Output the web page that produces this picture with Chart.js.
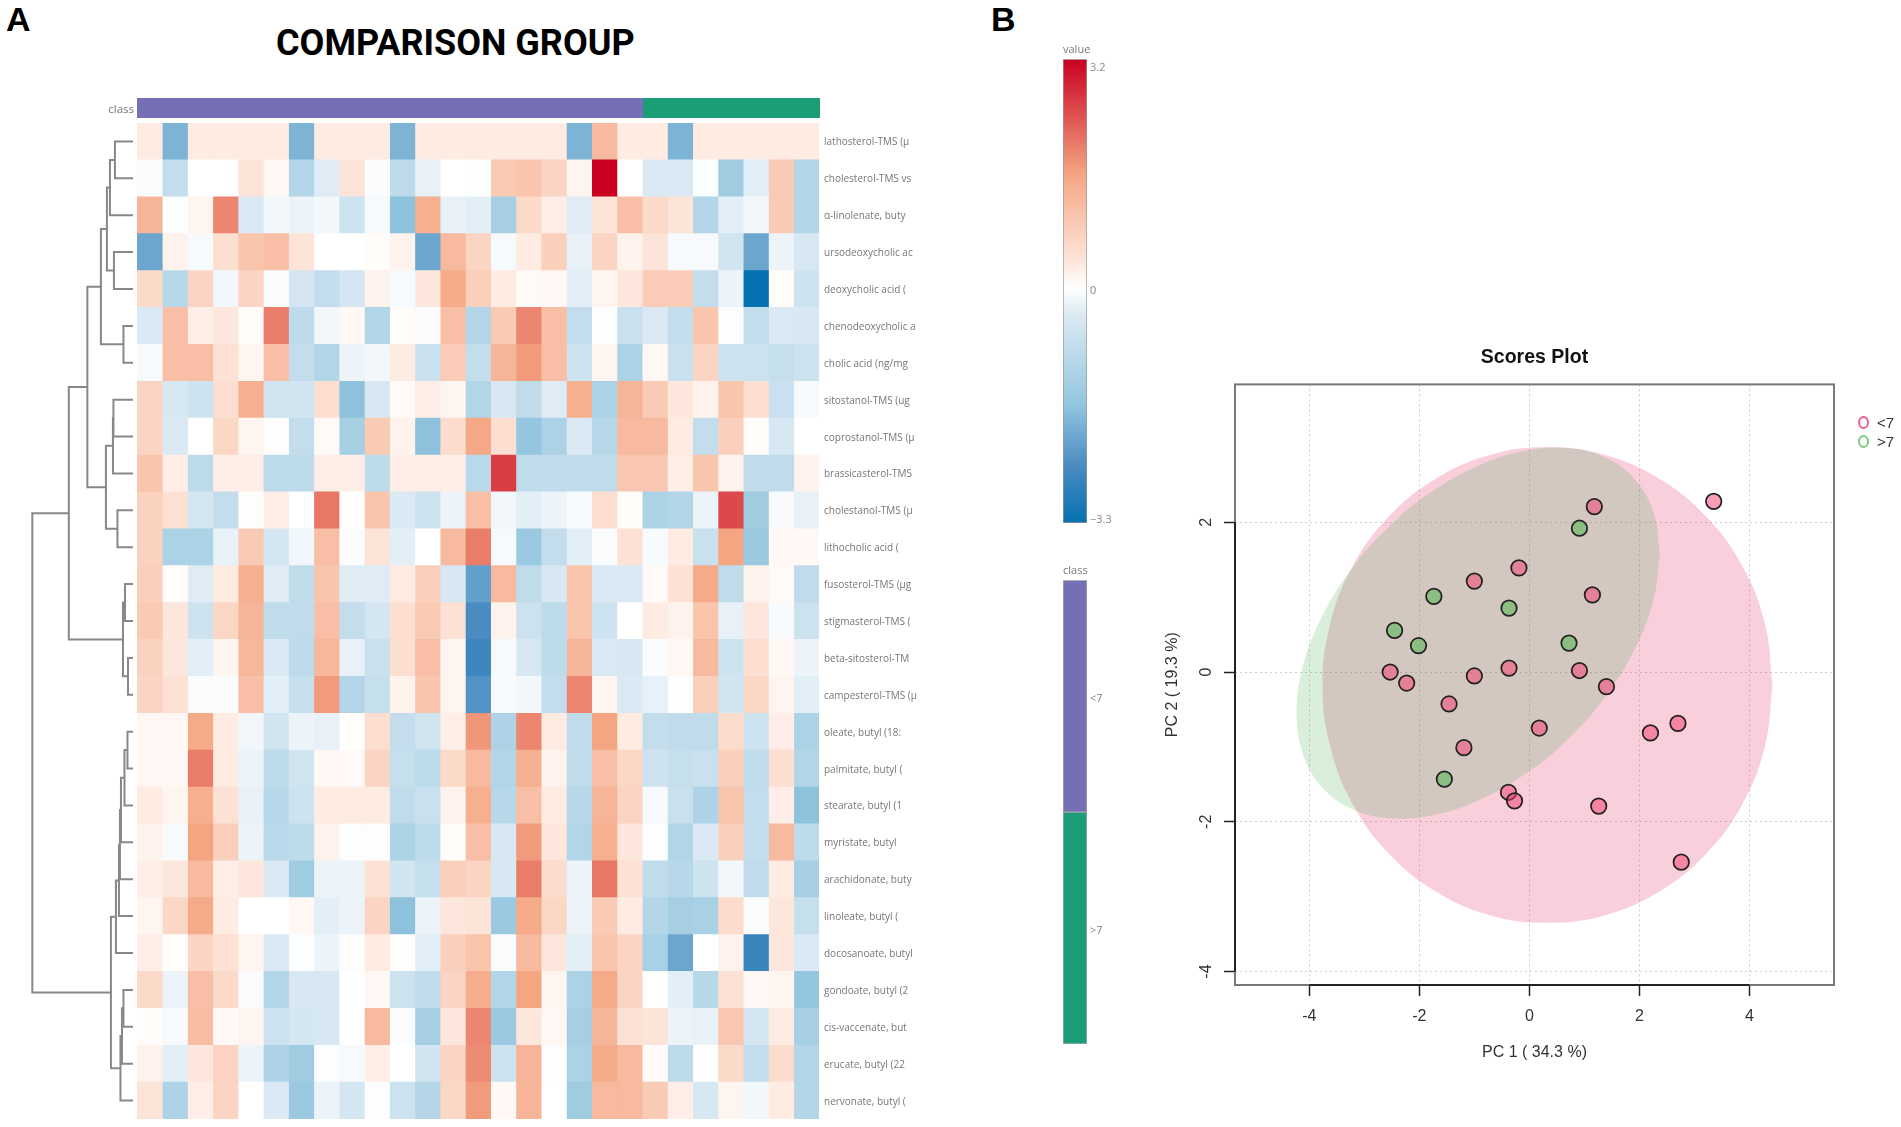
<!DOCTYPE html>
<html>
<head>
<meta charset="utf-8">
<title>Comparison group</title>
<script src="https://cdn.jsdelivr.net/npm/chart.js@4"></script>
<style>
  html, body { margin: 0; padding: 0; background: #fff; }
  body { position: relative; width: 1901px; height: 1127px; overflow: hidden; }
  canvas { position: absolute; }
  .txt { position: absolute; font-family: "Liberation Sans", sans-serif; color: #000; white-space: nowrap; }
  .dot { position: absolute; width: 7px; height: 9px; border: 2px solid; border-radius: 50%; }
</style>
</head>
<body>
<div class="txt" style="left:6px;top:0px;font-size:34px;font-weight:bold">A</div>
<div class="txt" style="left:991px;top:0px;font-size:34px;font-weight:bold">B</div>
<div class="txt" style="left:276px;top:22px;font-size:36px;font-weight:700;font-family:Roboto,sans-serif">COMPARISON GROUP</div>

<canvas id="classBar" width="720" height="20" style="left:100px;top:98px"></canvas>
<canvas id="dendro" width="103" height="996" style="left:30px;top:123px"></canvas>
<canvas id="heat" width="820" height="996" style="left:137px;top:123px"></canvas>
<canvas id="valueBar" width="70" height="490" style="left:1063px;top:40px"></canvas>
<canvas id="classKey" width="70" height="489" style="left:1063px;top:561px"></canvas>
<canvas id="scores" width="751" height="770" style="left:1150px;top:340px"></canvas>

<span class="dot" style="left:1858px;top:416px;border-color:#ee5f8c"></span>
<div class="txt" style="left:1877px;top:414px;font-size:15px;color:#333">&lt;7</div>
<span class="dot" style="left:1858px;top:435px;border-color:#7fc97f"></span>
<div class="txt" style="left:1877px;top:433px;font-size:15px;color:#333">&gt;7</div>

<script>
const rowLabels = [
  "lathosterol-TMS (µ", "cholesterol-TMS vs", "α-linolenate, buty", "ursodeoxycholic ac",
  "deoxycholic acid (", "chenodeoxycholic a", "cholic acid (ng/mg", "sitostanol-TMS (ug",
  "coprostanol-TMS (µ", "brassicasterol-TMS", "cholestanol-TMS (µ", "lithocholic acid (",
  "fusosterol-TMS (µg", "stigmasterol-TMS (", "beta-sitosterol-TM", "campesterol-TMS (µ",
  "oleate, butyl (18:", "palmitate, butyl (", "stearate, butyl (1", "myristate, butyl",
  "arachidonate, buty", "linoleate, butyl (", "docosanoate, butyl", "gondoate, butyl (2",
  "cis-vaccenate, but", "erucate, butyl (22", "nervonate, butyl ("
];

// z-scores, one row per label, 27 samples
const heatRows = [
  [.3,-1.9,.3,.3,.3,.3,-1.9,.3,.3,.3,-1.9,.3,.3,.3,.3,.3,.3,-1.9,1.2,.3,.3,-1.9,.3,.3,.3,.3,.3],
  [-.05,-.8,0,0,.4,.1,-1.1,-.35,.4,-.05,-.9,-.25,0,-.02,.9,1,.7,.15,3.2,0,-.4,-.4,-.03,-1.4,-.3,.9,-1.1],
  [1.3,-.02,.15,1.9,-.4,-.15,-.2,-.15,-.6,-.1,-1.7,1.4,-.25,-.3,-1.3,.6,.25,-.35,.4,1.1,.6,.4,-1.1,-.3,-.15,.9,-1.1],
  [-2.1,.2,-.1,.5,1,1.1,.4,0,0,.05,.2,-2.1,1.2,.7,-.1,.3,.8,-.25,.7,.2,.4,-.1,-.1,-.55,-2.1,-.2,-.45],
  [.6,-1,.7,-.15,.7,-.05,-.5,-.8,-.5,.2,-.1,.35,1.5,.8,.3,.08,.1,-.3,.15,.35,.85,.85,-.8,-.2,-3.3,.05,-.6],
  [-.4,1.1,.25,.35,.05,2,-.9,-.15,.1,-1.1,.05,-.05,1.1,-1.1,.9,1.9,1.1,-.8,-.03,-.7,-.4,-.8,1,-.03,-.8,-.4,-.45],
  [-.1,1.1,1.1,.45,.15,1.1,-.8,-1.1,-.2,-.15,.3,-.7,.85,-.8,1.3,1.7,1.1,-.6,.15,-1.2,.12,-.7,.7,-.6,-.65,-.75,-.65],
  [.7,-.45,-.6,.5,1.4,-.55,-.55,.5,-1.7,-.45,.08,.25,.15,-1.1,-.45,-.85,-.35,1.4,-1.2,1.3,.9,.35,.2,1,.5,-.7,-.1],
  [.7,-.4,0,.65,.15,.03,-.8,.07,-1.3,.9,.2,-1.7,.55,1.55,.5,-1.6,-1.2,-.4,-1,1.2,1.2,.3,-.8,.8,.05,-.45,0],
  [1,.25,-.9,.25,.25,-.9,-.9,.25,.25,-.9,.25,.25,.25,-.95,2.6,-.85,-.85,-.85,-.85,.95,.95,.25,1,.2,-.85,-.85,.2],
  [.75,.45,-.5,-.8,.03,.25,0,2.05,0,1,-.4,-.6,-.2,1.1,-.15,-.3,-.2,-.08,.5,.05,-1.2,-1.1,-.2,2.5,-1.4,-.08,-.25],
  [.75,-1.2,-1.2,-.25,.9,-.5,-.15,1.1,-.05,.4,-.3,0,1.2,2,-.1,-1.5,-.8,-.3,-.05,.45,-.08,.3,-.7,1.6,-1.5,.1,.1],
  [.8,.05,-.35,.3,1.4,-.35,-.85,1,-.35,-.35,.3,.8,-.45,-2.2,1.2,-.85,-.45,1,-.4,-.4,.08,.45,1.5,-.85,.2,.07,-.85],
  [.9,.35,-.6,.65,1.3,-.85,-.85,1.1,-.8,-.5,.5,.9,.45,-2.5,.2,-.65,-.9,1,-.6,0,.3,.2,1,-.25,.35,-.08,-.65],
  [.75,.35,-.3,.15,1.25,-.4,-.9,1.25,-.25,-.7,.5,1.1,.15,-2.65,-.1,-.45,-.9,1.3,-.4,-.45,-.05,.1,1.2,-.6,.5,.1,-.2],
  [.7,.45,-.07,-.07,1.1,-.3,-.75,1.7,-1.1,-.75,.2,1,.15,-2.4,-.1,-.15,-.8,1.9,.15,-.4,-.25,-.02,.8,-.55,.65,.15,-.3],
  [.12,.12,1.5,.3,-.15,-.55,-.2,-.25,.02,.5,-.8,-.55,.25,1.75,-1.15,1.9,.3,-.85,1.6,.3,-.8,-.85,-.85,.55,-.6,.25,-1.2],
  [.12,.1,2,.3,-.2,-.9,-.55,.1,.08,.7,-.75,-.9,.6,1.2,-1.1,1.4,.2,-.85,1.1,.65,-.6,-.75,-.7,.8,-.85,.5,-1.1],
  [.3,.15,1.4,.45,-.25,-1,-.6,.3,.3,.3,-.85,-.7,.2,1.4,-1,1.1,.3,-1,1.3,.7,-.1,-.7,-1.15,1,-.8,.25,-1.7],
  [.2,-.1,1.6,.8,-.2,-.95,-.9,.2,-.03,-.03,-1.2,-.9,.05,1.1,-.45,1.7,.35,-1.1,1.4,.35,-.03,-1.1,-.4,.8,-.8,1.2,-.9],
  [.25,.35,1.2,.25,.35,-.4,-1.4,-.2,-.2,.45,-.55,-.75,.8,.7,-.45,2,.55,-.2,2.05,.45,-.85,-1,-.6,-.15,-.85,.3,-1.3],
  [.15,.65,1.5,.3,0,0,.1,-.3,-.2,.7,-1.7,-.2,.35,.4,-1.5,1.5,.65,-.2,.9,.3,-1.05,-1.3,-1.25,.55,-.05,.35,-.75],
  [.25,.03,.7,.45,.15,-.4,-.03,-.2,.03,.3,.03,-.3,.8,1,-.05,1.2,.35,-.3,1,.7,-1.25,-2.1,0,.2,-2.7,.35,-.4],
  [.6,-.2,1.1,.6,-.07,-1.1,-.45,-.45,0,.12,-.65,-.85,.7,1.45,-1.1,1.6,.15,-1.2,1.5,.7,0,-.3,-1,.45,.12,.15,-1.6],
  [.05,-.1,1.15,.1,.15,-.65,-.5,-.45,0,1.2,-.05,-1.3,.35,1.9,-1.5,.35,.12,-1.3,1.3,.45,.4,-.2,-.25,.95,-.5,.3,-1.3],
  [.2,-.3,.35,.7,-.2,-1.15,-1.4,-.03,-.1,.25,0,-.55,.7,1.85,-.65,1.3,-.02,-1.2,1.5,1.2,.07,-.9,0,.6,-.8,.55,-1.1],
  [.4,-1.15,.25,.7,0,-.4,-1.5,-.2,-.5,-.03,-.65,-1.05,.65,1.7,.1,1.3,0,-1.4,1.2,1.2,.9,.25,-.45,.15,-.15,.3,-1.1]
];

const classLevels = ["<7", ">7"];
const classCounts = [20, 7];
const classColors = ["#756fb3", "#1b9e77"];

// colour key of the heatmap
const valueStops = [-3.3, -2.5, -1.65, -.4, 0, .4, 1.6, 3.2];
const valueColors = [[5, 113, 176], [74, 139, 193], [146, 197, 222], [218, 233, 243], [255, 255, 255], [253, 228, 216], [244, 165, 130], [202, 0, 32]];
const valueTicks = [-3.3, 0, 3.2];

// row dendrogram: [left child, right child, height]; children >= 27 are earlier merges
const dendroMerges = [
  [0, 1, 18], [27, 2, 23], [3, 4, 19], [28, 29, 26], [5, 6, 9.5], [30, 31, 32],
  [7, 8, 19.5], [33, 9, 20], [10, 11, 15.5], [34, 35, 27], [32, 36, 45.5],
  [12, 13, 8], [14, 15, 5], [38, 39, 10], [37, 40, 64],
  [16, 17, 5.5], [42, 18, 8.5], [43, 19, 12], [44, 20, 13], [45, 21, 14], [46, 22, 17],
  [23, 24, 9.5], [48, 25, 11], [49, 26, 12.5], [47, 50, 22], [41, 51, 100.4]
];

// PCA scores
const pinkX = [3.35, 1.18, -.19, -1, 1.145, -2.53, -2.23, -1, -.37, .91, 1.4, -1.46, .18, -1.19, 2.2, 2.7, -.38, -.27, 1.26, 2.76];
const pinkY = [2.28, 2.21, 1.39, 1.215, 1.03, 0, -.147, -.053, .053, .02, -.196, -.427, -.748, -1.01, -.814, -.685, -1.606, -1.72, -1.79, -2.54];
const greenX = [.91, -1.736, -.37, -2.45, -2.015, .72, -1.545];
const greenY = [1.92, 1.01, .854, .556, .351, .387, -1.43];

// outline of the shaded 95% regions
const pinkHullX = [4.42, 4.28, 3.87, 3.22, 2.375, 1.39, .33, -.73, -1.715, -2.56, -3.21, -3.62, -3.76, -3.62, -3.21, -2.56, -1.715, -.73, .33, 1.39, 2.375, 3.22, 3.87, 4.28, 4.42];
const pinkHullY = [-.175, .645, 1.415, 2.07, 2.575, 2.895, 3, 2.895, 2.575, 2.07, 1.415, .645, -.175, -.995, -1.765, -2.42, -2.925, -3.245, -3.35, -3.245, -2.925, -2.42, -1.765, -.995, -.175];
const greenHullX = [2.37, 2.258, 1.928, 1.403, .72, -.076, -.93, -1.784, -2.58, -3.263, -3.788, -4.118, -4.23, -4.118, -3.788, -3.263, -2.58, -1.784, -.93, -.076, .72, 1.403, 1.928, 2.258, 2.37];
const greenHullY = [1.586, 2.128, 2.562, 2.855, 2.989, 2.956, 2.756, 2.403, 1.923, 1.347, .714, .069, -.546, -1.088, -1.522, -1.815, -1.949, -1.916, -1.716, -1.363, -.883, -.307, .326, .971, 1.586];

const xTicks = [-4, -2, 0, 2, 4];
const yTicks = [-4, -2, 0, 2];

Chart.defaults.animation = false;
Chart.defaults.responsive = false;
Chart.defaults.plugins.legend.display = false;
Chart.defaults.plugins.tooltip.enabled = false;

const labelColor = "#777";
const noGrid = { display: false, drawTicks: false };

// Chart.js has no vertical tick offset: a blank first line moves a label down by half the line height
function shiftedFont(size, shift) {
  return { family: "'Open Sans'", size: size, lineHeight: Math.abs(shift) * 2 + "px" };
}
function shiftDown(label) {
  return ["", label];
}

function colorFor(v) {
  let i = 0;
  while (i < valueStops.length - 2 && v > valueStops[i + 1]) i++;
  const t = (v - valueStops[i]) / (valueStops[i + 1] - valueStops[i]);
  const c = valueColors[i].map((a, n) => Math.round(a + (valueColors[i + 1][n] - a) * t));
  return `rgb(${c[0]},${c[1]},${c[2]})`;
}

function hiddenLinear(min, max, extra) {
  return Object.assign({ type: "linear", display: false, min: min, max: max }, extra || {});
}

// keep the plot area tight against the canvas, whatever the tick labels need
function fixWidth(w) {
  return s => {
    s.width = w;
    s.paddingTop = 0;
    s.paddingBottom = 0;
  };
}

// heatmap: one stacked dataset per sample column, one unit wide each
new Chart(document.getElementById("heat"), {
  type: "bar",
  data: {
    labels: rowLabels,
    datasets: heatRows[0].map((_, col) => ({
      data: rowLabels.map(() => 1),
      backgroundColor: heatRows.map(r => colorFor(r[col])),
      borderWidth: 0,
      barPercentage: 1,
      categoryPercentage: 1
    }))
  },
  options: {
    indexAxis: "y",
    scales: {
      x: hiddenLinear(0, heatRows[0].length, { stacked: true }),
      y: {
        stacked: true,
        position: "right",
        border: { display: false },
        grid: noGrid,
        ticks: {
          autoSkip: false,
          font: shiftedFont(10, 1.2),
          color: labelColor,
          padding: 5,
          callback: (v, i) => shiftDown(rowLabels[i])
        },
        afterFit: fixWidth(138)
      }
    }
  }
});

new Chart(document.getElementById("classBar"), {
  type: "bar",
  data: {
    labels: ["class"],
    datasets: classLevels.map((name, i) => ({
      label: name,
      data: [classCounts[i]],
      backgroundColor: classColors[i],
      barPercentage: 1,
      categoryPercentage: 1
    }))
  },
  options: {
    indexAxis: "y",
    scales: {
      x: hiddenLinear(0, classCounts[0] + classCounts[1], { stacked: true }),
      y: {
        stacked: true,
        border: { display: false },
        grid: noGrid,
        ticks: {
          font: shiftedFont(11.5, 2),
          color: labelColor,
          padding: 3,
          callback: () => shiftDown("class")
        },
        afterFit: fixWidth(37)
      }
    }
  }
});

// row centres follow the merge order, like hclust does
const leafCount = rowLabels.length;
const nodePos = [];
const nodeHeight = [];
function childPos(c) { return c < leafCount ? c : nodePos[c - leafCount]; }
function childHeight(c) { return c < leafCount ? 0 : nodeHeight[c - leafCount]; }
const dendroSets = dendroMerges.map((m, i) => {
  const a = childPos(m[0]), b = childPos(m[1]);
  nodePos[i] = (a + b) / 2;
  nodeHeight[i] = m[2];
  return {
    data: [
      { x: childHeight(m[0]), y: a }, { x: m[2], y: a },
      { x: m[2], y: b }, { x: childHeight(m[1]), y: b }
    ],
    showLine: true,
    borderColor: "#888",
    borderWidth: 2,
    pointRadius: 0,
    tension: 0,
    clip: false
  };
});

new Chart(document.getElementById("dendro"), {
  type: "scatter",
  data: { datasets: dendroSets },
  options: {
    scales: {
      x: hiddenLinear(0, 102.7, { reverse: true }),
      y: hiddenLinear(-.5, 26.5, { reverse: true })
    }
  }
});

function valueGradient(ctx) {
  const chart = ctx.chart;
  if (!chart.chartArea) return "#fff";
  const s = chart.scales.y;
  const g = chart.ctx.createLinearGradient(0, s.getPixelForValue(valueStops[0]), 0, s.getPixelForValue(valueStops[valueStops.length - 1]));
  const span = valueStops[valueStops.length - 1] - valueStops[0];
  valueStops.forEach(v => g.addColorStop((v - valueStops[0]) / span, colorFor(v)));
  return g;
}

// the end labels sit inside the bar height, the blank line nudges them in
function valueTickLabel(v) {
  if (v < 0) return ["\u2212" + Math.abs(v), ""];
  return shiftDown(String(v));
}
function valueTickFont(ctx) {
  const v = ctx.tick ? ctx.tick.value : 0;
  return shiftedFont(11, v > 0 ? 8.7 : 3);
}

new Chart(document.getElementById("valueBar"), {
  type: "bar",
  data: {
    labels: ["value"],
    datasets: [{
      data: [[valueTicks[0], valueTicks[2]]],
      backgroundColor: valueGradient,
      borderColor: "#999",
      borderWidth: 1,
      borderSkipped: false,
      barPercentage: 1,
      categoryPercentage: 1
    }]
  },
  options: {
    layout: { padding: { bottom: 7 } },
    plugins: {
      title: { display: true, text: "value", align: "start", color: labelColor, font: { family: "'Open Sans'", size: 11, weight: "normal" }, padding: { top: 3, bottom: 3 } }
    },
    scales: {
      x: { display: false },
      y: {
        position: "right",
        min: valueTicks[0],
        max: valueTicks[2],
        border: { display: false },
        grid: noGrid,
        afterBuildTicks: s => { s.ticks = valueTicks.map(v => ({ value: v })); },
        ticks: { font: valueTickFont, color: "#888", padding: 3, callback: valueTickLabel },
        afterFit: fixWidth(46)
      }
    }
  }
});

new Chart(document.getElementById("classKey"), {
  type: "bar",
  data: {
    labels: classLevels,
    datasets: [{
      data: classLevels.map(() => 1),
      backgroundColor: classColors,
      borderColor: "#aaa",
      borderWidth: 1,
      borderSkipped: false,
      barPercentage: 1,
      categoryPercentage: 1
    }]
  },
  options: {
    indexAxis: "y",
    layout: { padding: { bottom: 6 } },
    plugins: {
      title: { display: true, text: "class", align: "start", color: labelColor, font: { family: "'Open Sans'", size: 11, weight: "normal" }, padding: { top: 3, bottom: 3 } }
    },
    scales: {
      x: hiddenLinear(0, 1),
      y: {
        position: "right",
        border: { display: false },
        grid: noGrid,
        ticks: {
          font: shiftedFont(11, 3),
          color: "#888",
          padding: 3,
          callback: (v, i) => shiftDown(classLevels[i])
        },
        afterFit: fixWidth(46)
      }
    }
  }
});

function zipPoints(xs, ys) {
  return xs.map((x, i) => ({ x: x, y: ys[i] }));
}

// R style frame and rotated y tick labels
const baseGraphics = {
  id: "baseGraphics",
  afterDraw(chart) {
    const { ctx, chartArea: a, scales } = chart;
    ctx.save();
    ctx.lineWidth = 2;
    ctx.strokeStyle = "#777";
    ctx.strokeRect(a.left, a.top, a.right - a.left, a.bottom - a.top);
    ctx.strokeStyle = "#222";
    ctx.beginPath();
    ctx.moveTo(a.left, scales.y.getPixelForValue(yTicks[0]));
    ctx.lineTo(a.left, scales.y.getPixelForValue(yTicks[yTicks.length - 1]));
    ctx.moveTo(scales.x.getPixelForValue(xTicks[0]), a.bottom);
    ctx.lineTo(scales.x.getPixelForValue(xTicks[xTicks.length - 1]), a.bottom);
    ctx.stroke();
    ctx.font = "16px 'Liberation Sans'";
    ctx.fillStyle = "#333";
    ctx.textAlign = "center";
    ctx.textBaseline = "middle";
    yTicks.forEach(v => {
      ctx.save();
      ctx.translate(a.left - 28, scales.y.getPixelForValue(v));
      ctx.rotate(-Math.PI / 2);
      ctx.fillText(String(v), 0, 0);
      ctx.restore();
    });
    ctx.restore();
  }
};

const gridStyle = { color: "#ccc", tickColor: "#222", tickLength: 11, tickWidth: 1.5 };
const axisFont = { family: "'Liberation Sans'", size: 16 };

new Chart(document.getElementById("scores"), {
  type: "scatter",
  data: {
    datasets: [
      {
        label: classLevels[1],
        data: zipPoints(greenX, greenY),
        backgroundColor: "rgba(70,180,70,.5)",
        borderColor: "#222",
        borderWidth: 1.75,
        pointRadius: 7.75
      },
      {
        label: classLevels[0],
        data: zipPoints(pinkX, pinkY),
        backgroundColor: "rgba(245,60,110,.5)",
        borderColor: "#222",
        borderWidth: 1.75,
        pointRadius: 7.75
      },
      {
        data: zipPoints(greenHullX, greenHullY),
        showLine: true,
        fill: "shape",
        tension: .4,
        borderWidth: 0,
        pointRadius: 0,
        backgroundColor: "rgba(65,175,80,.2)"
      },
      {
        data: zipPoints(pinkHullX, pinkHullY),
        showLine: true,
        fill: "shape",
        tension: .4,
        borderWidth: 0,
        pointRadius: 0,
        backgroundColor: "rgba(227,63,111,.25)"
      }
    ]
  },
  options: {
    layout: { padding: { right: 67 } },
    plugins: {
      title: {
        display: true,
        fullSize: false,
        text: "Scores Plot",
        color: "#111",
        font: { family: "'Liberation Sans'", size: 19.5, weight: "bold" },
        padding: { top: 6, bottom: 15 }
      }
    },
    scales: {
      x: {
        min: -5.35,
        max: 5.536,
        border: { display: false, dash: [2, 3] },
        grid: gridStyle,
        afterBuildTicks: s => { s.ticks = xTicks.map(v => ({ value: v })); },
        ticks: { font: axisFont, color: "#333", padding: 11, maxRotation: 0, includeBounds: false },
        title: { display: true, text: "PC 1 ( 34.3 %)", font: axisFont, color: "#333", padding: { top: 8, bottom: 48 } },
        afterFit: s => { s.height = 125; }
      },
      y: {
        min: -4.18,
        max: 3.841,
        border: { display: false, dash: [2, 3] },
        grid: gridStyle,
        afterBuildTicks: s => { s.ticks = yTicks.map(v => ({ value: v })); },
        ticks: { display: false, includeBounds: false },
        title: { display: true, text: "PC 2 ( 19.3 %)", font: axisFont, color: "#333", padding: { top: 13, bottom: 13 } },
        afterFit: s => { s.width = 85; }
      }
    }
  },
  plugins: [baseGraphics]
});
</script>
</body>
</html>
